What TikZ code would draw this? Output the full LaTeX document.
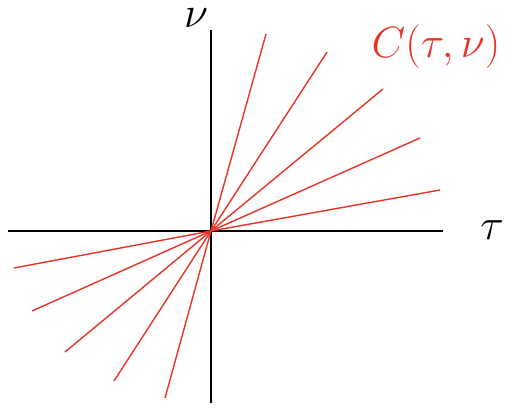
\documentclass[tikz,border=0pt]{standalone}
\usepackage{amsmath,amssymb}
\usepackage{xcolor}
\usetikzlibrary{calc,positioning}
\definecolor{penred}{RGB}{232,52,38}
\tikzset{
  axis/.style={black,line width=1.1pt},
  ray/.style={penred,line width=0.8pt},
  biglabel/.style={inner sep=0pt,font=\fontsize{30}{36}\selectfont}
}
\begin{document}
\begin{tikzpicture}[x=1cm,y=1cm]
    \useasboundingbox (-4.22,-3.54) rectangle (6.0,4.62);
    \coordinate (O) at (0,0);
    % --- axes ---
    \coordinate (xl) at (-4.06,0);
    \coordinate (xr) at (4.64,0);
    \coordinate (yb) at (0,-3.44);
    \coordinate (yt) at (0,4.02);
    \draw[axis] (xl) -- (xr);
    \draw[axis] (yb) -- (yt);
    \node[biglabel] (tau) at (5.62,0.02) {$\tau$};
    \node[biglabel,anchor=base,font=\fontsize{26}{30}\selectfont] (nu) at (-0.3,4.08) {$\nu$};
    % --- family of lines through the origin ---
    \foreach \a/\b/\c/\d in {1.10/3.94/-0.92/-3.34, 2.32/3.58/-1.94/-3.00,
        3.44/2.84/-2.92/-2.42, 4.18/1.86/-3.58/-1.60, 4.58/0.82/-3.94/-0.74}
      \draw[ray] (\c,\d) -- (O) -- (\a,\b);
    \node[biglabel,text=penred] (C) at (4.5,3.68) {$C(\tau,\nu)$};
  \end{tikzpicture}
\end{document}
